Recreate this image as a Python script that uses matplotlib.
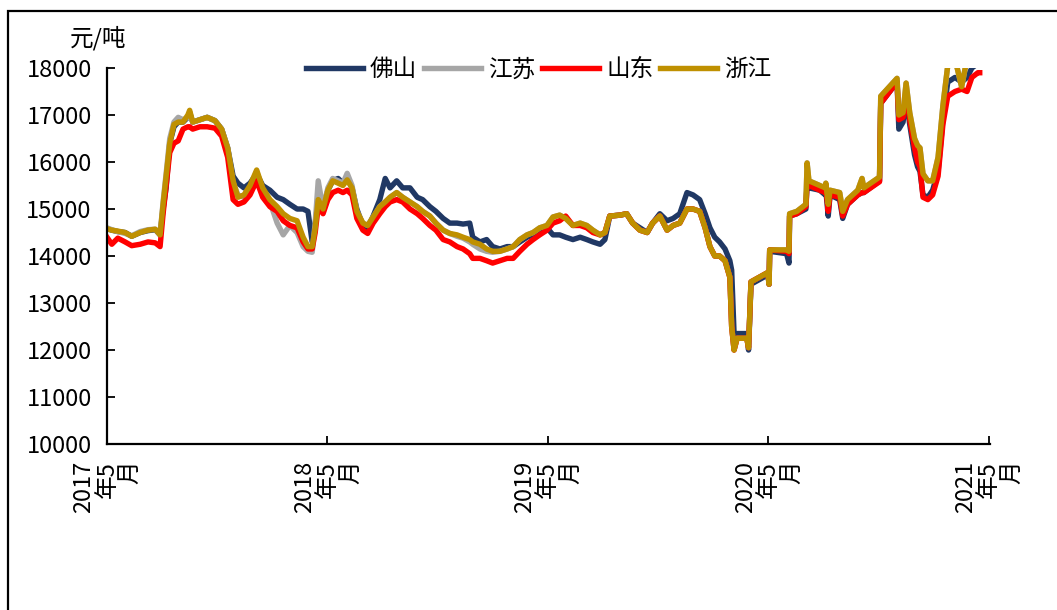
import matplotlib
matplotlib.use("Agg")
import matplotlib.pyplot as plt
from matplotlib.patches import Rectangle
import pandas as pd

plt.rcParams['font.family'] = ['Noto Sans CJK SC', 'DejaVu Sans']

dates = pd.to_datetime([
    '2017-05-01', '2017-05-09', '2017-05-19', '2017-05-31', '2017-06-11', '2017-06-25', '2017-07-08',
    '2017-07-20', '2017-07-28', '2017-08-02', '2017-08-07', '2017-08-13', '2017-08-20', '2017-08-27',
    '2017-09-04', '2017-09-12', '2017-09-15', '2017-09-20', '2017-10-02', '2017-10-14', '2017-10-27',
    '2017-11-07', '2017-11-17', '2017-11-26', '2017-12-04', '2017-12-14', '2017-12-24', '2018-01-04',
    '2018-01-14', '2018-01-26', '2018-02-07', '2018-02-17', '2018-02-28', '2018-03-12', '2018-03-22',
    '2018-03-30', '2018-04-06', '2018-04-11', '2018-04-16', '2018-04-24', '2018-05-02', '2018-05-10',
    '2018-05-19', '2018-05-27', '2018-06-03', '2018-06-11', '2018-06-19', '2018-06-29', '2018-07-07',
    '2018-07-16', '2018-07-27', '2018-08-05', '2018-08-13', '2018-08-24', '2018-09-03', '2018-09-15',
    '2018-09-27', '2018-10-06', '2018-10-18', '2018-10-28', '2018-11-09', '2018-11-20', '2018-12-02',
    '2018-12-12', '2018-12-23', '2018-12-28', '2019-01-09', '2019-01-20', '2019-01-30', '2019-02-11',
    '2019-02-23', '2019-03-05', '2019-03-16', '2019-03-28', '2019-04-07', '2019-04-18', '2019-04-30',
    '2019-05-10', '2019-05-21', '2019-05-31', '2019-06-12', '2019-06-24', '2019-07-05', '2019-07-15',
    '2019-07-27', '2019-08-04', '2019-08-12', '2019-08-29', '2019-09-09', '2019-09-19', '2019-10-01',
    '2019-10-13', '2019-10-22', '2019-11-03', '2019-11-15', '2019-11-25', '2019-12-06', '2019-12-18',
    '2019-12-28', '2020-01-08', '2020-01-17', '2020-01-25', '2020-02-02', '2020-02-10', '2020-02-19',
    '2020-02-27', '2020-03-01', '2020-03-05', '2020-03-10', '2020-03-26', '2020-03-29', '2020-04-02',
    '2020-04-30', '2020-05-02', '2020-05-03', '2020-05-31', '2020-06-04', '2020-06-05', '2020-06-17',
    '2020-07-02', '2020-07-04', '2020-07-07', '2020-07-25', '2020-08-03', '2020-08-04', '2020-08-08',
    '2020-08-11', '2020-08-27', '2020-09-01', '2020-09-09', '2020-09-26', '2020-10-03', '2020-10-06',
    '2020-11-01', '2020-11-03', '2020-11-30', '2020-12-03', '2020-12-10', '2020-12-15', '2020-12-21',
    '2020-12-29', '2021-01-03', '2021-01-07', '2021-01-12', '2021-01-20', '2021-01-28', '2021-02-06',
    '2021-02-14', '2021-02-22', '2021-03-06', '2021-03-17', '2021-03-26', '2021-04-03', '2021-04-13',
    '2021-04-16',
])

foshan = [
    14580, 14550, 14520, 14500, 14420, 14500, 14540, 14560, 14450, 15000, 15450, 16400, 16750, 16850,
    16850, 16950, 17050, 16850, 16900, 16950, 16880, 16700, 16300, 15700, 15550, 15450, 15550, 15750,
    15500, 15400, 15250, 15200, 15100, 15000, 15000, 14950, 14300, 14700, 15200, 15000, 15400, 15600,
    15650, 15550, 15650, 15450, 15000, 14650, 14600, 14850, 15200, 15650, 15450, 15600, 15450, 15450,
    15250, 15200, 15050, 14950, 14800, 14700, 14700, 14680, 14700, 14400, 14300, 14350, 14200, 14150,
    14200, 14200, 14300, 14400, 14450, 14550, 14600, 14450, 14450, 14400, 14350, 14400, 14350, 14300,
    14250, 14350, 14850, 14870, 14900, 14700, 14600, 14500, 14700, 14900, 14750, 14800, 14900, 15350,
    15300, 15200, 14900, 14600, 14400, 14300, 14150, 13900, 13700, 12350, 12350, 12350, 12000, 13400,
    13600, 13400, 14100, 14050, 13850, 14850, 14900, 15000, 15550, 15450, 15400, 15300, 15400, 14850,
    15300, 15200, 14800, 15100, 15300, 15350, 15350, 15600, 17250, 17700, 16700, 16850, 17400, 16800,
    16150, 15900, 15800, 15300, 15250, 15400, 15800, 16900, 17700, 17800, 17700, 17800, 18000, 18100,
    18100,
]
jiangsu = [
    14600, 14560, 14520, 14480, 14430, 14520, 14560, 14570, 14450, 15150, 15750, 16500, 16850, 16950,
    16900, 16950, 17050, 16850, 16900, 16950, 16880, 16700, 16300, 15550, 15300, 15250, 15450, 15800,
    15400, 15150, 14700, 14450, 14650, 14500, 14200, 14100, 14080, 14700, 15600, 15000, 15450, 15650,
    15600, 15550, 15760, 15500, 14950, 14700, 14650, 14830, 15050, 15150, 15250, 15350, 15250, 15150,
    15050, 14950, 14850, 14700, 14550, 14480, 14420, 14380, 14300, 14250, 14150, 14100, 14080, 14100,
    14150, 14200, 14350, 14450, 14500, 14600, 14650, 14830, 14870, 14800, 14650, 14700, 14650, 14550,
    14450, 14500, 14850, 14870, 14900, 14700, 14550, 14500, 14700, 14850, 14550, 14650, 14700, 15000,
    15000, 14950, 14600, 14200, 14000, 14000, 13900, 13550, 12500, 12000, 12250, 12250, 12050, 13450,
    13650, 13400, 14130, 14130, 14100, 14900, 14950, 15100, 15980, 15600, 15500, 15450, 15550, 15100,
    15400, 15350, 14950, 15200, 15400, 15650, 15450, 15680, 17400, 17780, 17000, 17050, 17680, 17050,
    16500, 16350, 16300, 15750, 15600, 15600, 16100, 17200, 18050, 18200, 17600, 18200, 18200, 18300,
    18300,
]
shandong = [
    14400, 14250, 14380, 14300, 14220, 14250, 14300, 14280, 14200, 14900, 15500, 16200, 16400, 16450,
    16700, 16750, 16750, 16700, 16750, 16750, 16720, 16550, 16100, 15200, 15100, 15150, 15300, 15600,
    15250, 15050, 14950, 14750, 14650, 14600, 14300, 14150, 14150, 14500, 15050, 14900, 15200, 15350,
    15400, 15350, 15400, 15300, 14800, 14550, 14480, 14700, 14900, 15050, 15150, 15200, 15150, 15000,
    14900, 14800, 14650, 14550, 14350, 14300, 14200, 14150, 14050, 13950, 13950, 13900, 13850, 13900,
    13950, 13950, 14100, 14250, 14350, 14450, 14550, 14700, 14750, 14850, 14650, 14650, 14600, 14500,
    14450, 14500, 14850, 14870, 14900, 14700, 14550, 14500, 14700, 14850, 14550, 14650, 14700, 15000,
    15000, 14950, 14600, 14200, 14000, 14000, 13900, 13550, 12500, 12000, 12250, 12250, 12050, 13450,
    13650, 13400, 14130, 14100, 14050, 14850, 14900, 15050, 15550, 15500, 15400, 15350, 15450, 14950,
    15300, 15250, 14850, 15100, 15300, 15350, 15350, 15580, 17250, 17700, 16900, 16950, 17500, 16900,
    16300, 16000, 15900, 15250, 15200, 15300, 15700, 16800, 17400, 17500, 17550, 17500, 17800, 17900,
    17900,
]
zhejiang = [
    14580, 14550, 14530, 14500, 14420, 14500, 14550, 14570, 14450, 15100, 15700, 16400, 16800, 16850,
    16850, 17000, 17100, 16850, 16900, 16950, 16880, 16700, 16300, 15600, 15250, 15300, 15500, 15830,
    15450, 15200, 15050, 14900, 14800, 14750, 14400, 14200, 14200, 14600, 15200, 15000, 15400, 15600,
    15550, 15500, 15620, 15450, 14950, 14700, 14650, 14830, 15050, 15150, 15250, 15350, 15250, 15150,
    15050, 14950, 14850, 14700, 14550, 14480, 14450, 14400, 14350, 14300, 14250, 14150, 14100, 14100,
    14150, 14200, 14350, 14450, 14500, 14600, 14650, 14830, 14870, 14800, 14650, 14700, 14650, 14550,
    14450, 14500, 14850, 14870, 14900, 14700, 14550, 14500, 14700, 14850, 14550, 14650, 14700, 15000,
    15000, 14950, 14600, 14200, 14000, 14000, 13900, 13550, 12500, 12000, 12250, 12250, 12050, 13450,
    13650, 13400, 14130, 14130, 14100, 14900, 14950, 15100, 15980, 15600, 15500, 15450, 15550, 15100,
    15400, 15350, 14950, 15200, 15400, 15650, 15450, 15680, 17400, 17780, 17000, 17050, 17680, 17050,
    16500, 16350, 16300, 15750, 15600, 15600, 16100, 17200, 18050, 18200, 17600, 18200, 18200, 18300,
    18300,
]

series = [('佛山', foshan, '#203864'), ('江苏', jiangsu, '#A6A6A6'),
          ('山东', shandong, '#FF0000'), ('浙江', zhejiang, '#BF9000')]

xticks = pd.to_datetime(['2017-05-01', '2018-05-01', '2019-05-01', '2020-05-01', '2021-05-01'])
xtick_labels = ['2017\n年5\n月', '2018\n年5\n月', '2019\n年5\n月', '2020\n年5\n月', '2021\n年5\n月']
yticks = list(range(10000, 18001, 1000))

fig = plt.figure(figsize=(10.57, 6.10), dpi=100)
ax = fig.add_axes([0.1012, 0.2721, 0.8354, 0.6164])

for name, vals, col in series:
    ax.plot(dates, vals, color=col, lw=3.9, label=name, solid_joinstyle='round')

ax.set_ylim(10000, 18000)
ax.set_xlim(pd.Timestamp('2017-05-01'), pd.Timestamp('2021-05-03'))
ax.set_yticks(yticks)
ax.set_yticklabels([str(v) for v in yticks])
ax.set_xticks(xticks)
ax.set_xticklabels(xtick_labels, rotation=90, ha='center', va='top',
                   multialignment='right', linespacing=1.0)
ax.tick_params(axis='both', direction='in', length=6, width=1.3, labelsize=17, color='black')
ax.tick_params(axis='y', pad=11)
ax.tick_params(axis='x', pad=12)

for s in ['top', 'right']:
    ax.spines[s].set_visible(False)
for s in ['left', 'bottom']:
    ax.spines[s].set_linewidth(1.6)

ax.legend(loc='center', bbox_to_anchor=(0.489, 0.995), ncol=4, frameon=False,
          fontsize=17, handlelength=2.4, handletextpad=0.3, columnspacing=0.3)

fig.text(98 / 1057, 1 - 38 / 610, '元/吨', ha='center', va='center', fontsize=17)

# outer frame (partly cut off on the right and bottom)
fig.patches.append(Rectangle((0.0076, -0.2), 1.3, 0.982 + 0.2, transform=fig.transFigure,
                             fill=False, edgecolor='black', linewidth=1.6))

fig.savefig('out.png', dpi=100)
